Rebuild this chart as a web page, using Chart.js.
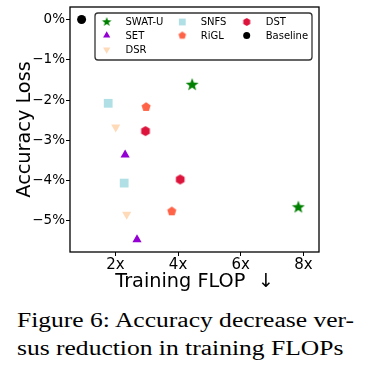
<!DOCTYPE html>
<html>
<head>
<meta charset="utf-8">
<script src="https://cdn.jsdelivr.net/npm/chart.js@4.4.0/dist/chart.umd.min.js"></script>
<style>
  body{margin:0;background:#fff;width:374px;height:367px;overflow:hidden;position:relative}
  #wrap{position:absolute;left:0;top:0;width:374px;height:300px}
  #cap{position:absolute;left:17px;top:306px;font-family:"Liberation Serif","Times New Roman",serif;font-size:20px;line-height:28px;color:#000;white-space:nowrap;transform-origin:0 0}
</style>
</head>
<body>
<div id="wrap"><canvas id="c"></canvas></div>
<div id="cap"><span id="l1">Figure 6: Accuracy decrease ver-</span><br>sus reduction in training FLOPs</div>
<script>
/* data: x = training FLOP reduction, y = accuracy loss (%) */
var swatX=[4.45,7.84],  swatY=[-1.62,-4.66];
var setX=[2.31,2.69],   setY=[-3.36,-5.46];
var dsrX=[2.01,2.36],   dsrY=[-2.67,-4.84];
var snfsX=[1.77,2.28],  snfsY=[-2.08,-4.06];
var riglX=[2.98,3.80],  riglY=[-2.17,-4.76];
var dstX=[2.96,4.07],   dstY=[-2.77,-3.97];
var baseX=[0.92],       baseY=[0];
var xTicks=[2,4,6,8];
var yTicks=[0,-1,-2,-3,-4,-5];

var FONT='"DejaVu Sans", sans-serif';

// little canvases for marker shapes chart.js doesn't have (filled star, pentagon, hexagon)
function mkShape(kind,color,r){
  var s=Math.ceil(r*2+2),cv=document.createElement('canvas');cv.width=s;cv.height=s;
  var c=cv.getContext('2d'),cx=s/2,cy=s/2,n,i,a,rr;
  c.fillStyle=color;c.beginPath();
  if(kind==='star'){
    for(i=0;i<10;i++){a=-Math.PI/2+i*Math.PI/5;rr=i%2?r*0.42:r;c.lineTo(cx+rr*Math.cos(a),cy+rr*Math.sin(a));}
  }else{
    n=kind==='pentagon'?5:6;
    for(i=0;i<n;i++){a=-Math.PI/2+i*2*Math.PI/n;c.lineTo(cx+r*Math.cos(a),cy+r*Math.sin(a));}
  }
  c.closePath();c.fill();return cv;
}

function pts(xs,ys){return xs.map(function(x,i){return {x:x,y:ys[i]};});}

var series=[
  {label:'SWAT-U',  x:swatX,y:swatY,color:'#008000',style:mkShape('star','#008000',6.8),leg:mkShape('star','#008000',5),r:7,rot:0},
  {label:'SET',     x:setX, y:setY, color:'#9400D3',style:'triangle',r:5.3,rot:0},
  {label:'DSR',     x:dsrX, y:dsrY, color:'#FFDAB9',style:'triangle',r:5.3,rot:180},
  {label:'SNFS',    x:snfsX,y:snfsY,color:'#B0E0E6',style:'rect',r:6.2,rot:0},
  {label:'RiGL',    x:riglX,y:riglY,color:'#FF6347',style:mkShape('pentagon','#FF6347',4.8),leg:mkShape('pentagon','#FF6347',4),r:5,rot:0},
  {label:'DST',     x:dstX, y:dstY, color:'#DC143C',style:mkShape('hexagon','#DC143C',5),leg:mkShape('hexagon','#DC143C',4),r:5,rot:0},
  {label:'Baseline',x:baseX,y:baseY,color:'#000000',style:'circle',r:4.5,rot:0}
];

// legend laid out column-first like matplotlib (ncol=3)
var legendPlugin={
  id:'boxLegend',
  afterDraw:function(chart){
    var ctx=chart.ctx,a=chart.chartArea;
    ctx.save();
    // full frame around the plot
    ctx.strokeStyle='#000';ctx.lineWidth=1.3;
    ctx.strokeRect(a.left,a.top,a.right-a.left,a.bottom-a.top);
    // legend box
    var bx=95,by=13,bw=217,bh=47;
    ctx.beginPath();ctx.roundRect(bx,by,bw,bh,3);
    ctx.fillStyle='rgba(255,255,255,0.85)';ctx.fill();
    ctx.strokeStyle='#333';ctx.lineWidth=1.3;ctx.stroke();
    var colM=[106.7,182.3,246.7],colT=[125.5,200.7,265.7],rowY=[22,35.5,49.5];
    var layout=[[0,0],[0,1],[0,2],[1,0],[1,1],[2,0],[2,1]];
    ctx.font='10px '+FONT;ctx.textBaseline='middle';ctx.textAlign='left';
    series.forEach(function(s,i){
      var col=layout[i][0],row=layout[i][1];
      ctx.fillStyle=s.color;
      Chart.helpers.drawPoint(ctx,{pointStyle:s.leg||s.style,radius:s.r*0.78,rotation:s.rot,borderWidth:0},colM[col],rowY[row]);
      ctx.fillStyle='#000';
      ctx.fillText(s.label,colT[col],rowY[row]+0.5);
    });
    ctx.restore();
  }
};

function noPad(s){s.paddingTop=0;s.paddingBottom=0;s.paddingLeft=0;s.paddingRight=0;}

new Chart(document.getElementById('c'),{
  type:'scatter',
  data:{datasets:series.map(function(s){return {
    label:s.label,data:pts(s.x,s.y),pointStyle:s.style,pointRadius:s.r,pointHoverRadius:s.r,
    pointRotation:s.rot,backgroundColor:s.color,borderColor:s.color,borderWidth:0};})},
  options:{
    responsive:true,maintainAspectRatio:false,animation:false,
    layout:{padding:{left:0,right:55,top:4,bottom:0}},
    plugins:{legend:{display:false},tooltip:{enabled:false}},
    scales:{
      x:{type:'linear',min:0.55,max:8.5,
        afterBuildTicks:function(s){s.ticks=xTicks.map(function(v){return {value:v};});},
        afterFit:function(s){s.height=48;noPad(s);},
        ticks:{callback:function(v){return v+'x';},font:{family:FONT,size:15},color:'#000',padding:0,maxRotation:0,autoSkip:false},
        grid:{drawOnChartArea:false,tickLength:4,color:'#000',lineWidth:1},
        border:{display:false},
        title:{display:true,text:'Training FLOP  \u2193',font:{family:FONT,size:19.3},color:'#000',padding:{top:0,bottom:6}}
      },
      y:{type:'linear',min:-5.77,max:0.31,
        afterBuildTicks:function(s){s.ticks=yTicks.map(function(v){return {value:v};});},
        afterFit:function(s){s.width=70;noPad(s);},
        ticks:{callback:function(v){return v===0?'0%':'\u2212'+Math.abs(v)+'%';},font:{family:FONT,size:13.5},color:'#000',padding:1,autoSkip:false},
        grid:{drawOnChartArea:false,tickLength:4,color:'#000',lineWidth:1},
        border:{display:false},
        title:{display:true,text:'Accuracy Loss',font:{family:FONT,size:19.3},color:'#000',padding:{top:13,bottom:0}}
      }
    }
  },
  plugins:[legendPlugin]
});

// stretch caption so the first line spans the same width as in the figure
var cap=document.getElementById('cap'),w=document.getElementById('l1').getBoundingClientRect().width;
cap.style.transform='scaleX('+(337/w)+')';
</script>
</body>
</html>
